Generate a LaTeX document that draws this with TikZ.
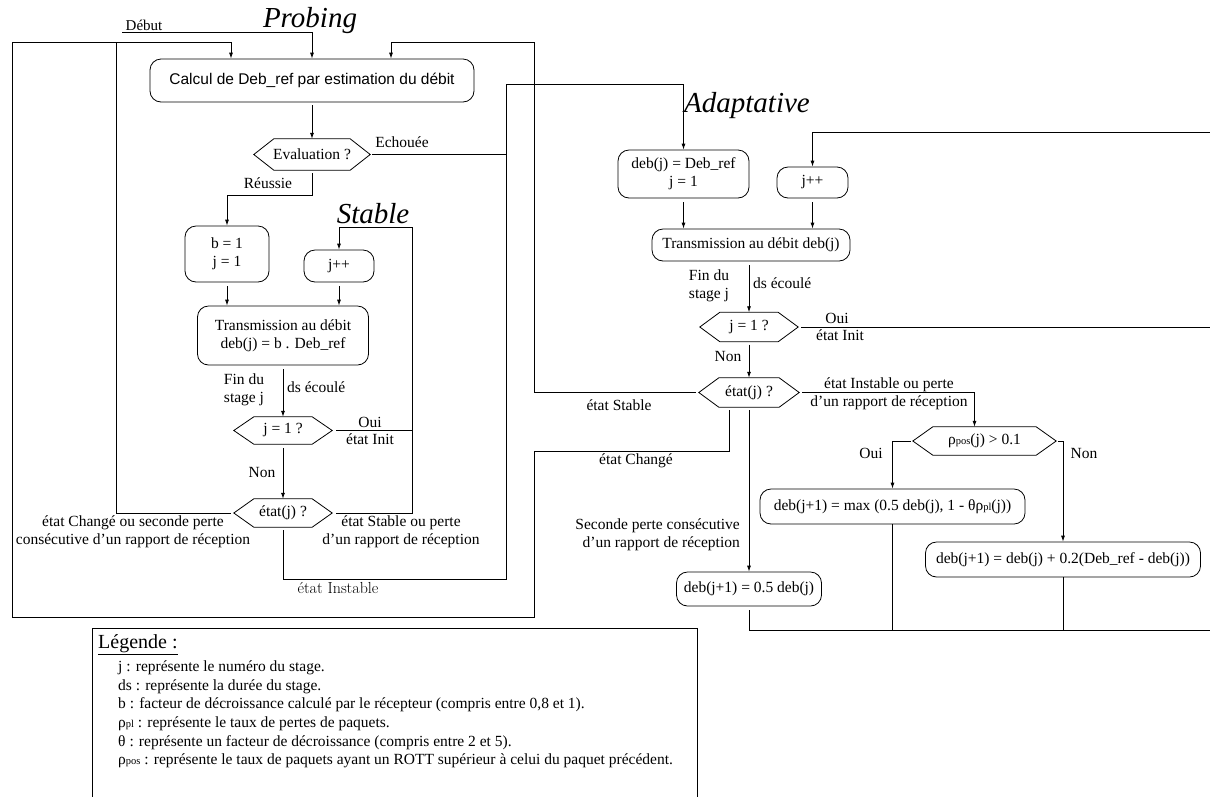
\documentclass[tikz,border=0pt]{standalone}
\usepackage{fontspec}
\newfontfamily\timesf{Liberation Serif}
\newfontfamily\sansf{Liberation Sans}
\usetikzlibrary{arrows.meta}
\newcommand\tx{\timesf\fontsize{15.5}{18}\selectfont}
\newcommand\sx{\sansf\fontsize{15.5}{18}\selectfont}
\newcommand\ttl{\timesf\itshape\fontsize{29}{30}\selectfont}
\newcommand\sm[1]{{\fontsize{10.5}{10}\selectfont #1}}
\tikzset{
  line/.style={line width=0.8pt, draw=black},
  arr/.style={line, -{Latex[length=6pt,width=4pt]}},
  rbox/.style={draw, line width=0.8pt, rounded corners=11pt, align=center, inner sep=0pt, font=\tx},
  lab/.style={font=\tx, inner sep=0pt, align=center},
  hexbox/.style={inner sep=0pt, font=\tx},
  ttlnode/.style={font=\ttl, inner sep=0pt},
}
\newcommand\hexa[5]{%
  \node[hexbox, minimum width=#3pt, minimum height=#4pt] (#1) at (#2) {#5};
  \draw[line] (#1.west) -- ([xshift=20pt]#1.north west) -- ([xshift=-20pt]#1.north east) -- (#1.east) -- ([xshift=-20pt]#1.south east) -- ([xshift=20pt]#1.south west) -- cycle;}
\begin{document}
\begin{tikzpicture}[x=1pt,y=-1pt]
\useasboundingbox (0,0) rectangle (1210,796);
% ---------------- Probing ----------------
\node[ttlnode] (tprob) at (310,21) {Probing};
\node[lab, font=\timesf\fontsize{15}{16}\selectfont] (debut) at (144,25) {Début};
\node[rbox, font=\sx, minimum width=324pt, minimum height=43pt] (calc) at (312,80.5) {Calcul de Deb\_ref par estimation du débit};
\hexa{eval}{312,154.5}{116}{31}{Evaluation ?}
\node[lab] (lech) at (402,142) {Echouée};
\node[lab] (lreu) at (268,183) {Réussie};
\node[ttlnode] (tstab) at (373,214) {Stable};
\node[rbox, minimum width=84pt, minimum height=56pt] (b1) at (227,254) {b = 1\\j = 1};
\node[rbox, minimum width=70pt, minimum height=32pt] (pjpp) at (339,266) {j++};
\node[rbox, minimum width=171pt, minimum height=59pt] (ptrans) at (283,335.5) {Transmission au débit\\deb(j) = b . Deb\_ref};
\node[lab] (pfin) at (244,390) {Fin du\\stage j};
\node[lab, anchor=west] (pds) at (287,387) {ds écoulé};
\hexa{pj1}{283,430.5}{98}{27}{j = 1 ?}
\node[lab] (poui) at (370,422) {Oui};
\node[lab] (pinit) at (370,439) {état Init};
\node[lab] (pnon) at (262,472) {Non};
\hexa{petat}{283,513}{98}{28}{état(j) ?}
\node[lab] (pchg) at (133,532) {état Changé ou seconde perte\\consécutive d’un rapport de réception};
\node[lab] (pstl) at (401,532) {état Stable ou perte\\d’un rapport de réception};
\node[lab, font=\fontsize{16}{18}\selectfont] (pinst) at (338,588) {état Instable};
% ---------------- Adaptative ----------------
\node[ttlnode] (tadap) at (747,106) {Adaptative};
\node[rbox, minimum width=131pt, minimum height=48pt] (adeb) at (683.5,174) {deb(j) = Deb\_ref\\j = 1};
\node[rbox, minimum width=71pt, minimum height=31pt] (ajpp) at (812.5,182.5) {j++};
\node[rbox, minimum width=198pt, minimum height=32pt] (atrans) at (751,245) {Transmission au débit deb(j)};
\node[lab] (afin) at (709,286) {Fin du\\stage j};
\node[lab, anchor=west] (ads) at (753,283) {ds écoulé};
\hexa{aj1}{749,327}{98}{29}{j = 1 ?}
\node[lab] (aoui) at (837,318) {Oui};
\node[lab] (ainit) at (840,335) {état Init};
\node[lab] (anonl) at (728,356) {Non};
\hexa{aetat}{749,392.5}{100}{29}{état(j) ?}
\node[lab] (astl) at (619,405) {état Stable};
\node[lab] (ainst) at (889,394) {état Instable ou perte\\d’un rapport de réception};
\node[lab] (achg) at (636,461) {état Changé};
\node[lab, align=right, anchor=east] (asec) at (740,535) {Seconde perte consécutive\\d’un rapport de réception};
\hexa{rho}{984.5,441}{143}{28}{ρ\sm{pos}(j) > 0.1}
\node[lab] (roui) at (871,453) {Oui};
\node[lab] (rnon) at (1084,453) {Non};
\node[rbox, minimum width=265pt, minimum height=35pt] (amax) at (892.5,506.5) {deb(j+1) = max (0.5 deb(j), 1 - θρ\sm{pl}(j))};
\node[rbox, minimum width=275pt, minimum height=35pt] (anon) at (1063,559.5) {deb(j+1) = deb(j) + 0.2(Deb\_ref - deb(j))};
\node[rbox, minimum width=145pt, minimum height=34pt] (ahalf) at (749,589) {deb(j+1) = 0.5 deb(j)};
% ---------------- Legend ----------------
\node[draw, line width=0.8pt, minimum width=605pt, minimum height=190pt, anchor=north west, inner sep=0pt] (legend) at (92,628) {};
\node[lab, anchor=west, font=\timesf\fontsize{20}{22}\selectfont] (legt) at (98,645) {\underline{Légende :}};
\node[lab, anchor=north west, align=left, font=\timesf\fontsize{15.5}{18.7}\selectfont] (legx) at (118,660.5) {j : représente le numéro du stage.\\
ds : représente la durée du stage.\\
b : facteur de décroissance calculé par le récepteur (compris entre 0,8 et 1).\\
ρ\sm{pl} : représente le taux de pertes de paquets.\\
θ : représente un facteur de décroissance (compris entre 2 et 5).\\
ρ\sm{pos} : représente le taux de paquets ayant un ROTT supérieur à celui du paquet précédent.};
% ---------------- coordinates ----------------
\coordinate (dstart) at (122,32);
\coordinate (pjoin) at (116,42);
\coordinate (fTL) at (12,42);
\coordinate (fBL) at (12,617);
\coordinate (fBR) at (534,617);
\coordinate (chB) at (534,451);
\coordinate (stT) at (534,42);
\coordinate (instR) at (506,579);
\coordinate (adTop) at (506,84);
\coordinate (stl) at (412,227);
\coordinate (rtop) at (1210,132);
\coordinate (rj1) at (1210,327);
\coordinate (rb) at (1210,630);
% ---------------- connectors Probing ----------------
\draw[arr] (dstart) -| (calc.north);
\draw[arr] ([xshift=-20pt,yshift=-3pt]aetat.south) |- (chB) -- (fBR) -- (fBL) -- (fTL) -| ([xshift=-81pt]calc.north);
\draw[line] ([xshift=-3pt]petat.west) -| (pjoin);
\draw[arr] ([xshift=-3pt]aetat.west) -| (stT) -| ([xshift=79pt]calc.north);
\draw[arr] ([yshift=-3pt]calc.south) -- (eval.north);
\draw[line] ([xshift=2pt]eval.east) -- (eval.east -| adTop);
\draw[arr] ([yshift=-3pt]petat.south) |- (instR) -- (adTop) -| (adeb.north);
\draw[arr] ([yshift=-3pt]eval.south) -- ++(0,22) -| (b1.north);
\draw[arr] ([yshift=-4pt]b1.south) -- (b1.south |- ptrans.north);
\draw[arr] ([yshift=-4pt]pjpp.south) -- (pjpp.south |- ptrans.north);
\draw[arr] ([yshift=-4pt]ptrans.south) -- (pj1.north);
\draw[arr] ([yshift=-4pt]pj1.south) -- (petat.north);
\draw[line] ([xshift=4pt]pj1.east) -- (pj1.east -| stl);
\draw[arr] ([xshift=4pt]petat.east) -| (stl) -| (pjpp.north);
% ---------------- connectors Adaptative ----------------
\draw[arr] ([yshift=-4pt]adeb.south) -- (adeb.south |- atrans.north);
\draw[arr] ([yshift=-4pt]ajpp.south) -- (ajpp.south |- atrans.north);
\draw[arr] (rtop) -| (ajpp.north);
\draw[arr] ([yshift=-4pt]atrans.south -| aj1.north) -- (aj1.north);
\draw[line] ([xshift=3pt]aj1.east) -- (rj1);
\draw[arr] ([yshift=-3pt]aj1.south) -- (aetat.north);
\draw[arr] ([xshift=3pt]aetat.east) -| ([xshift=-10pt]rho.north);
\draw[arr] ([yshift=-3pt]aetat.south) -- (ahalf.north);
\draw[arr] ([xshift=-2pt]rho.west) -| (amax.north);
\draw[arr] ([xshift=2pt]rho.east) -| (anon.north);
\draw[line] ([yshift=-4pt]ahalf.south) |- (rb);
\draw[line] (amax.south) -- (amax.south |- rb);
\draw[line] (anon.south) -- (anon.south |- rb);
\end{tikzpicture}
\end{document}
